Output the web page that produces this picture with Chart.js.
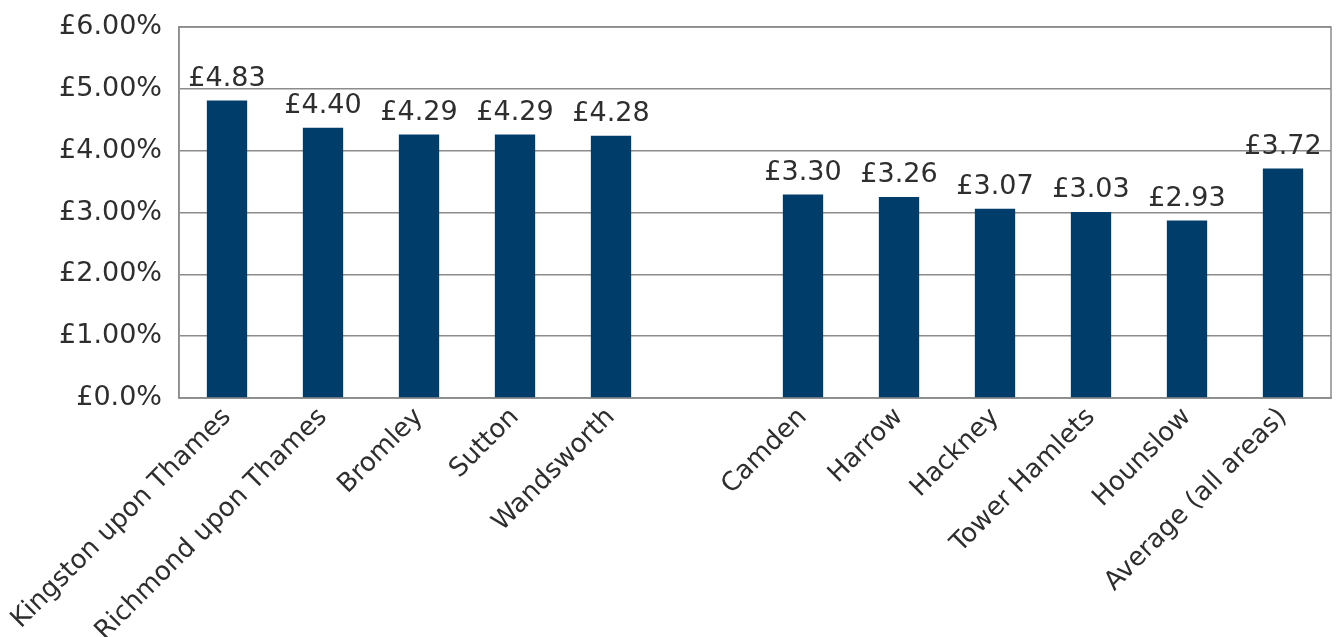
<!DOCTYPE html>
<html>
<head>
<meta charset="utf-8">
<script src="https://cdn.jsdelivr.net/npm/chart.js@4/dist/chart.umd.min.js"></script>
<style>
  html, body { margin: 0; padding: 0; background: #fff; }
  #wrap { width: 1338px; height: 637px; }
</style>
</head>
<body>
<div id="wrap"><canvas id="myChart"></canvas></div>
<script>
// boroughs, with an empty slot between the two groups
const areas = [
  "Kingston upon Thames",
  "Richmond upon Thames",
  "Bromley",
  "Sutton",
  "Wandsworth",
  "",
  "Camden",
  "Harrow",
  "Hackney",
  "Tower Hamlets",
  "Hounslow",
  "Average (all areas)",
];
// bar heights as drawn
const barValues = [4.81, 4.37, 4.26, 4.26, 4.24, null, 3.29, 3.25, 3.06, 3.01, 2.87, 3.71];
// numbers printed above the bars
const printedValues = [4.83, 4.40, 4.29, 4.29, 4.28, null, 3.30, 3.26, 3.07, 3.03, 2.93, 3.72];
const yTicks = ["£0.0%", "£1.00%", "£2.00%", "£3.00%", "£4.00%", "£5.00%", "£6.00%"];

const textColor = "#2e2e2e";
const gridColor = "#8c8c8c";

const barLabels = {
  id: "barLabels",
  afterDatasetsDraw(chart) {
    const ctx = chart.ctx;
    const meta = chart.getDatasetMeta(0);
    ctx.save();
    ctx.font = "27px 'DejaVu Sans'";
    ctx.fillStyle = textColor;
    ctx.textAlign = "center";
    ctx.textBaseline = "alphabetic";
    meta.data.forEach(function (bar, i) {
      if (printedValues[i] == null) return;
      ctx.fillText("£" + printedValues[i].toFixed(2), bar.x, bar.y - 15);
    });
    ctx.restore();
  },
};

const frame = {
  id: "frame",
  beforeDatasetsDraw(chart) {
    const a = chart.chartArea;
    const ctx = chart.ctx;
    ctx.save();
    ctx.strokeStyle = gridColor;
    ctx.lineWidth = 1.5;
    ctx.strokeRect(a.left, a.top, a.right - a.left, a.bottom - a.top);
    ctx.restore();
  },
};

const chart = new Chart(document.getElementById("myChart"), {
  type: "bar",
  data: {
    labels: areas,
    datasets: [
      {
        data: barValues,
        backgroundColor: "#003d6b",
        barPercentage: 0.42,
        categoryPercentage: 1,
      },
    ],
  },
  options: {
    responsive: true,
    maintainAspectRatio: false,
    animation: false,
    layout: { padding: { top: 27, right: 7, left: 0, bottom: 0 } },
    plugins: {
      legend: { display: false },
      tooltip: { enabled: false },
    },
    scales: {
      x: {
        grid: { display: false, drawTicks: false },
        border: { color: gridColor, width: 1.5 },
        ticks: {
          color: textColor,
          font: { family: "'DejaVu Sans'", size: 26 },
          minRotation: 45,
          maxRotation: 45,
          autoSkip: false,
          padding: 4,
        },
        afterFit(scale) {
          scale.height = 239;
          scale.paddingLeft = 0;
          scale.paddingRight = 0;
        },
      },
      y: {
        min: 0,
        max: 6,
        grid: { color: gridColor, lineWidth: 1.5, drawTicks: false },
        border: { color: gridColor, width: 1.5 },
        ticks: {
          stepSize: 1,
          color: textColor,
          font: { family: "'DejaVu Sans'", size: 27 },
          padding: 17,
          callback: function (v) {
            return yTicks[v];
          },
        },
        afterFit(scale) {
          scale.width = 179;
          scale.paddingTop = 0;
          scale.paddingBottom = 0;
        },
      },
    },
  },
  plugins: [barLabels, frame],
});
</script>
</body>
</html>
